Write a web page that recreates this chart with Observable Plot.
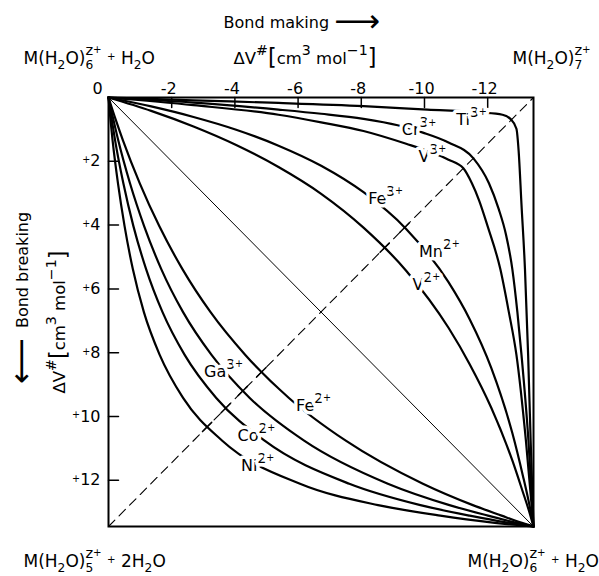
<!DOCTYPE html>
<html><head><meta charset="utf-8">
<script src="https://cdn.jsdelivr.net/npm/d3@7"></script>
<script src="https://cdn.jsdelivr.net/npm/@observablehq/plot@0.6"></script>
<style>html,body{margin:0;padding:0;background:#fff;}</style>
</head><body>
<div id="chart"></div>
<script>
// ---- data (ΔV‡ in cm3 mol-1) ----
const axisMax = 13.45;
const xTicks = [0, -2, -4, -6, -8, -10, -12];
const yTicks = [2, 4, 6, 8, 10, 12];

const tiX = [0, -2.69, -5.38, -8.07, -10.09, -11.77, -12.47, -12.72, -12.91, -12.98, -13.07, -13.18, -13.28, -13.36, -13.45];
const tiY = [0, 0.09, 0.17, 0.27, 0.38, 0.47, 0.54, 0.67, 0.98, 1.68, 3.36, 5.38, 8.07, 10.76, 13.45];
const crX = [0, -2.69, -5.38, -6.73, -8.07, -9.15, -9.95, -10.76, -11.55, -12.04, -12.35, -12.58, -12.78, -12.94, -13.07, -13.29, -13.45];
const crY = [0, 0.16, 0.38, 0.51, 0.67, 0.87, 1.10, 1.41, 1.91, 2.69, 3.50, 4.30, 5.38, 6.73, 8.07, 10.76, 13.45];
const v3X = [0, -2.69, -5.38, -6.73, -8.07, -9.42, -10.22, -10.76, -11.23, -11.50, -11.73, -12.00, -12.40, -12.67, -12.91, -13.21, -13.45];
const v3Y = [0, 0.24, 0.54, 0.78, 1.05, 1.45, 1.72, 1.95, 2.22, 2.69, 3.23, 4.04, 5.38, 6.73, 8.07, 10.76, 13.45];
const feMnX = [0, -1.35, -2.69, -4.04, -5.38, -6.73, -8.07, -9.42, -10.76, -11.43, -12.11, -12.78, -13.11, -13.32, -13.45];
const feMnY = [0, 0.28, 0.61, 1.01, 1.51, 2.14, 2.97, 4.12, 5.79, 6.95, 8.47, 10.52, 11.84, 12.77, 13.45];
const v2X = [0, -1.35, -2.69, -4.04, -5.38, -6.73, -8.07, -9.42, -10.76, -11.43, -12.11, -12.78, -13.11, -13.32, -13.45];
const v2Y = [0, 0.42, 0.91, 1.49, 2.18, 3.02, 4.08, 5.43, 7.22, 8.36, 9.72, 11.38, 12.36, 13.00, 13.45];
const lowY = [0, 0.67, 1.35, 2.69, 4.04, 5.38, 6.73, 8.07, 9.42, 10.76, 12.11, 12.78, 13.11, 13.32, 13.45];
const fe2X = [0, -0.22, -0.46, -0.99, -1.61, -2.34, -3.23, -4.33, -5.71, -7.51, -9.95, -11.53, -12.44, -13.03, -13.45];
const gaX = [0, -0.15, -0.31, -0.68, -1.13, -1.67, -2.36, -3.26, -4.47, -6.19, -8.84, -10.79, -12.01, -12.84, -13.45];
const coX = [0, -0.10, -0.21, -0.47, -0.79, -1.19, -1.71, -2.41, -3.41, -4.94, -7.62, -9.87, -11.43, -12.58, -13.45];
const niX = [0, -0.06, -0.13, -0.30, -0.51, -0.77, -1.12, -1.62, -2.36, -3.60, -6.06, -8.53, -10.50, -12.10, -13.45];

// points where curves cross the dashed line
const crossX = [-9.37, -8.74, -4.84, -4.25, -3.71, -3.12];
const crossY = [4.08, 4.71, 8.61, 9.20, 9.74, 10.33];

// ion labels
const labelText = ["Ti{^3}{'+}", "Cr{^3}{'+}", "V{^3}{'+}", "Fe{^3}{'+}", "Mn{^2}{'+}", "V{^2}{'+}", "Ga{^3}{'+}", "Fe{^2}{'+}", "Co{^2}{'+}", "Ni{^2}{'+}"];
const labelX = [-11.49, -9.83, -10.25, -8.77, -10.47, -10.06, -3.64, -6.49, -4.68, -4.72];
const labelY = [0.69, 1.03, 1.85, 3.17, 4.83, 5.86, 8.59, 9.66, 10.60, 11.54];

// ---- build tables ----
const series = [
  ["Ti3+", tiX, tiY], ["Cr3+", crX, crY], ["V3+", v3X, v3Y], ["Fe3+/Mn2+", feMnX, feMnY],
  ["V2+", v2X, v2Y], ["Fe2+", fe2X, lowY], ["Ga3+", gaX, lowY], ["Co2+", coX, lowY], ["Ni2+", niX, lowY]
];
const rows = series.flatMap(([ion, xs, ys]) => xs.map((x, i) => ({ion, x, y: ys[i]})));
const crossRows = crossX.map((x, i) => ({x, y: crossY[i]}));
const labelRows = labelText.map((t, i) => ({t, x: labelX[i], y: labelY[i]}));
const diagonal = [{x: 0, y: 0}, {x: -axisMax, y: axisMax}];
const antiDiagonal = [{x: 0, y: axisMax}, {x: -axisMax, y: 0}];

const lineShape = {draw(ctx, l) { ctx.moveTo(0, 0); ctx.lineTo(0, -l); }};
const unit = "ΔV{^#}{B[}cm{^3} mol{^−1}{B]}";

const chart = Plot.plot({
  width: 599, height: 576,
  marginLeft: 108, marginRight: 66, marginTop: 97, marginBottom: 50,
  style: {fontFamily: "'DejaVu Sans', sans-serif", fontSize: "16px", background: "#fff", color: "#000"},
  x: {domain: [0, -axisMax], axis: null},
  y: {domain: [0, axisMax], reverse: true, axis: null},
  marks: [
    Plot.line(diagonal, {x: "x", y: "y", stroke: "black", strokeWidth: 1}),
    Plot.line(antiDiagonal, {x: "x", y: "y", stroke: "black", strokeWidth: 1.1, strokeDasharray: "9,6"}),
    Plot.line(rows, {x: "x", y: "y", z: "ion", stroke: "black", strokeWidth: 2.2, curve: "monotone-x"}),
    Plot.vector(crossRows, {x: "x", y: "y", length: 13, rotate: 45, anchor: "middle", shape: lineShape, stroke: "black", strokeWidth: 1.5}),
    Plot.vector(xTicks.filter(d => d !== 0), {x: d => d, y: d => 0, length: 10, rotate: 180, anchor: "start", shape: lineShape, stroke: "black", strokeWidth: 1.5}),
    Plot.vector(yTicks, {x: d => 0, y: d => d, length: 10, rotate: 90, anchor: "start", shape: lineShape, stroke: "black", strokeWidth: 1.5}),
    Plot.frame({stroke: "black", strokeWidth: 2}),
    Plot.axisX(xTicks.filter(d => d !== 0), {anchor: "top", tickSize: 0, tickPadding: 4, dx: -3, label: null, fontSize: 16, tickFormat: d => "-" + Math.abs(d)}),
    Plot.text([0], {x: d => d, y: d => 0, text: d => String(d), dy: -4, dx: -11, lineAnchor: "bottom", fontSize: 16}),
    Plot.axisY(yTicks, {anchor: "left", tickSize: 0, tickPadding: 8, label: null, fontSize: 16, tickFormat: d => "{~+}" + d}),
    Plot.text(labelRows, {x: "x", y: "y", text: "t", fontSize: 16, fill: "black", stroke: "white", strokeWidth: 7, paintOrder: "stroke"}),
    // titles and corner labels
    Plot.text(["Bond making {A⟶}"], {text: d => d, frameAnchor: "top-left", textAnchor: "start", lineAnchor: "bottom", dx: 115, dy: -70, fontSize: 16}),
    Plot.text([unit], {text: d => d, frameAnchor: "top-left", textAnchor: "start", lineAnchor: "bottom", dx: 125, dy: -34, fontSize: 16.5}),
    Plot.text(["M(H{_2}O){_6}{^z}{'+} {~+} H{_2}O"], {text: d => d, frameAnchor: "top-left", textAnchor: "start", lineAnchor: "bottom", dx: -85, dy: -34, fontSize: 17}),
    Plot.text(["M(H{_2}O){_7}{^z}{'+}"], {text: d => d, frameAnchor: "top-right", textAnchor: "start", lineAnchor: "bottom", dx: -21, dy: -34, fontSize: 17}),
    Plot.text(["M(H{_2}O){_5}{^z}{'+} {~+} 2H{_2}O"], {text: d => d, frameAnchor: "bottom-left", textAnchor: "start", lineAnchor: "bottom", dx: -85, dy: 40, fontSize: 17}),
    Plot.text(["M(H{_2}O){_6}{^z}{'+} {~+} H{_2}O"], {text: d => d, frameAnchor: "bottom-right", textAnchor: "start", lineAnchor: "bottom", dx: -66, dy: 40, fontSize: 17}),
    Plot.text(["{A⟵}  Bond breaking"], {text: d => d, frameAnchor: "left", rotate: -90, textAnchor: "middle", lineAnchor: "bottom", dx: -81, dy: -14, fontSize: 16}),
    Plot.text([unit], {text: d => d, frameAnchor: "left", rotate: -90, textAnchor: "middle", lineAnchor: "bottom", dx: -44, dy: 10, fontSize: 16.5})
  ]
});

document.getElementById("chart").append(chart);

// ---- rich text: {_x} sub, {^x} sup, {'x} small sup, {~x} small inline, {Bx} big bracket, {Ax} long arrow ----
const ns = "http://www.w3.org/2000/svg";
const styles = {"_": [0.72, 0.3], "^": [0.86, -0.5], "'": [0.6, -0.62], "~": [0.6, -0.2], "B": [1.35, 0.1], "A": [2.0, 0.26]};
function rich(el) {
  const s = el.textContent;
  if (!s.includes("{")) return;
  const fs = parseFloat(getComputedStyle(el).fontSize) || 16;
  el.textContent = "";
  const re = /\{([_^'~BA])([^}]*)\}|([^{]+)/g;
  let m, shift = 0, lastSub = null;
  while ((m = re.exec(s))) {
    const t = document.createElementNS(ns, "tspan");
    let size = 1, off = 0, txt;
    if (m[3] !== undefined) txt = m[3];
    else { [size, off] = styles[m[1]]; txt = m[2]; }
    const target = off * fs;
    t.setAttribute("dy", (target - shift).toFixed(2));
    shift = target;
    if (size !== 1) t.setAttribute("font-size", (size * fs).toFixed(2));
    t.textContent = txt;
    el.appendChild(t);
    if (m[1] === "^" && lastSub) t.setAttribute("dx", (-lastSub.getComputedTextLength()).toFixed(2));
    lastSub = m[1] === "_" ? t : null;
  }
}
chart.querySelectorAll("text").forEach(rich);
</script>
</body></html>
